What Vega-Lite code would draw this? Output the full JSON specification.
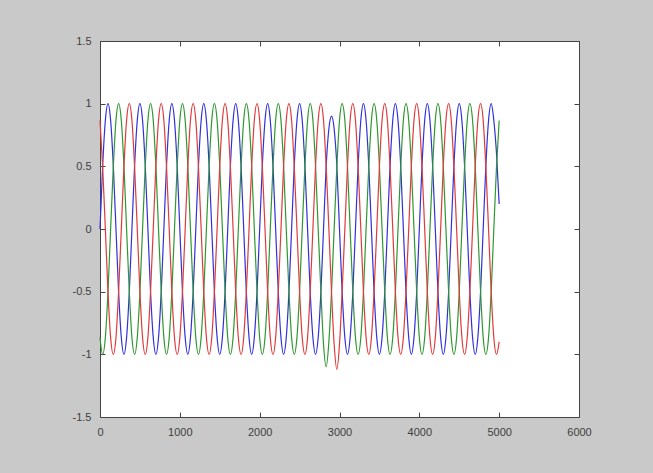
{
  "$schema": "https://vega.github.io/schema/vega-lite/v6.json",
  "width": 479,
  "height": 376,
  "autosize": {"type": "none"},
  "padding": {"left": 100, "top": 41, "right": 74, "bottom": 56},
  "background": "#c9c9c9",
  "view": {"fill": "#ffffff", "stroke": "#444444", "strokeWidth": 1},
  "config": {
    "axis": {
      "labelFont": "Liberation Sans",
      "labelFontSize": 11,
      "labelColor": "#404040",
      "tickColor": "#444444",
      "grid": false,
      "domain": false,
      "title": null
    }
  },
  "data": {
    "values": [
      {"t":0,"p":"a","v":0},{"t":33,"p":"a","v":0.5},{"t":67,"p":"a","v":0.866},{"t":100,"p":"a","v":1},{"t":133,"p":"a","v":0.866},{"t":167,"p":"a","v":0.5},{"t":200,"p":"a","v":0},{"t":233,"p":"a","v":-0.5},{"t":267,"p":"a","v":-0.866},{"t":300,"p":"a","v":-1},{"t":333,"p":"a","v":-0.866},{"t":367,"p":"a","v":-0.5},
      {"t":400,"p":"a","v":0},{"t":433,"p":"a","v":0.5},{"t":467,"p":"a","v":0.866},{"t":500,"p":"a","v":1},{"t":533,"p":"a","v":0.866},{"t":567,"p":"a","v":0.5},{"t":600,"p":"a","v":0},{"t":633,"p":"a","v":-0.5},{"t":667,"p":"a","v":-0.866},{"t":700,"p":"a","v":-1},{"t":733,"p":"a","v":-0.866},{"t":767,"p":"a","v":-0.5},
      {"t":800,"p":"a","v":0},{"t":833,"p":"a","v":0.5},{"t":867,"p":"a","v":0.866},{"t":900,"p":"a","v":1},{"t":933,"p":"a","v":0.866},{"t":967,"p":"a","v":0.5},{"t":1000,"p":"a","v":0},{"t":1033,"p":"a","v":-0.5},{"t":1067,"p":"a","v":-0.866},{"t":1100,"p":"a","v":-1},{"t":1133,"p":"a","v":-0.866},{"t":1167,"p":"a","v":-0.5},
      {"t":1200,"p":"a","v":0},{"t":1233,"p":"a","v":0.5},{"t":1267,"p":"a","v":0.866},{"t":1300,"p":"a","v":1},{"t":1333,"p":"a","v":0.866},{"t":1367,"p":"a","v":0.5},{"t":1400,"p":"a","v":0},{"t":1433,"p":"a","v":-0.5},{"t":1467,"p":"a","v":-0.866},{"t":1500,"p":"a","v":-1},{"t":1533,"p":"a","v":-0.866},{"t":1567,"p":"a","v":-0.5},
      {"t":1600,"p":"a","v":0},{"t":1633,"p":"a","v":0.5},{"t":1667,"p":"a","v":0.866},{"t":1700,"p":"a","v":1},{"t":1733,"p":"a","v":0.866},{"t":1767,"p":"a","v":0.5},{"t":1800,"p":"a","v":0},{"t":1833,"p":"a","v":-0.5},{"t":1867,"p":"a","v":-0.866},{"t":1900,"p":"a","v":-1},{"t":1933,"p":"a","v":-0.866},{"t":1967,"p":"a","v":-0.5},
      {"t":2000,"p":"a","v":0},{"t":2033,"p":"a","v":0.5},{"t":2067,"p":"a","v":0.866},{"t":2100,"p":"a","v":1},{"t":2133,"p":"a","v":0.866},{"t":2167,"p":"a","v":0.5},{"t":2200,"p":"a","v":0},{"t":2233,"p":"a","v":-0.5},{"t":2267,"p":"a","v":-0.866},{"t":2300,"p":"a","v":-1},{"t":2333,"p":"a","v":-0.866},{"t":2367,"p":"a","v":-0.5},
      {"t":2400,"p":"a","v":0},{"t":2433,"p":"a","v":0.5},{"t":2467,"p":"a","v":0.866},{"t":2500,"p":"a","v":1},{"t":2533,"p":"a","v":0.866},{"t":2567,"p":"a","v":0.5},{"t":2600,"p":"a","v":0},{"t":2633,"p":"a","v":-0.5},{"t":2667,"p":"a","v":-0.866},{"t":2700,"p":"a","v":-1},{"t":2733,"p":"a","v":-0.866},{"t":2767,"p":"a","v":-0.5},
      {"t":2800,"p":"a","v":0},{"t":2833,"p":"a","v":0.5},{"t":2867,"p":"a","v":0.8},{"t":2900,"p":"a","v":0.9},{"t":2933,"p":"a","v":0.8},{"t":2967,"p":"a","v":0.5},{"t":3000,"p":"a","v":0},{"t":3033,"p":"a","v":-0.5},{"t":3067,"p":"a","v":-0.866},{"t":3100,"p":"a","v":-1},{"t":3133,"p":"a","v":-0.866},{"t":3167,"p":"a","v":-0.5},
      {"t":3200,"p":"a","v":0},{"t":3233,"p":"a","v":0.5},{"t":3267,"p":"a","v":0.866},{"t":3300,"p":"a","v":1},{"t":3333,"p":"a","v":0.866},{"t":3367,"p":"a","v":0.5},{"t":3400,"p":"a","v":0},{"t":3433,"p":"a","v":-0.5},{"t":3467,"p":"a","v":-0.866},{"t":3500,"p":"a","v":-1},{"t":3533,"p":"a","v":-0.866},{"t":3567,"p":"a","v":-0.5},
      {"t":3600,"p":"a","v":0},{"t":3633,"p":"a","v":0.5},{"t":3667,"p":"a","v":0.866},{"t":3700,"p":"a","v":1},{"t":3733,"p":"a","v":0.866},{"t":3767,"p":"a","v":0.5},{"t":3800,"p":"a","v":0},{"t":3833,"p":"a","v":-0.5},{"t":3867,"p":"a","v":-0.866},{"t":3900,"p":"a","v":-1},{"t":3933,"p":"a","v":-0.866},{"t":3967,"p":"a","v":-0.5},
      {"t":4000,"p":"a","v":0},{"t":4033,"p":"a","v":0.5},{"t":4067,"p":"a","v":0.866},{"t":4100,"p":"a","v":1},{"t":4133,"p":"a","v":0.866},{"t":4167,"p":"a","v":0.5},{"t":4200,"p":"a","v":0},{"t":4233,"p":"a","v":-0.5},{"t":4267,"p":"a","v":-0.866},{"t":4300,"p":"a","v":-1},{"t":4333,"p":"a","v":-0.866},{"t":4367,"p":"a","v":-0.5},
      {"t":4400,"p":"a","v":0},{"t":4433,"p":"a","v":0.5},{"t":4467,"p":"a","v":0.866},{"t":4500,"p":"a","v":1},{"t":4533,"p":"a","v":0.866},{"t":4567,"p":"a","v":0.5},{"t":4600,"p":"a","v":0},{"t":4633,"p":"a","v":-0.5},{"t":4667,"p":"a","v":-0.866},{"t":4700,"p":"a","v":-1},{"t":4733,"p":"a","v":-0.866},{"t":4767,"p":"a","v":-0.5},
      {"t":4800,"p":"a","v":0},{"t":4833,"p":"a","v":0.5},{"t":4867,"p":"a","v":0.866},{"t":4900,"p":"a","v":1},{"t":4933,"p":"a","v":0.866},{"t":4967,"p":"a","v":0.6},{"t":5000,"p":"a","v":0.2},

      {"t":0,"p":"b","v":-0.866},{"t":33,"p":"b","v":-1},{"t":67,"p":"b","v":-0.866},{"t":100,"p":"b","v":-0.5},{"t":133,"p":"b","v":0},{"t":167,"p":"b","v":0.5},{"t":200,"p":"b","v":0.866},{"t":233,"p":"b","v":1},{"t":267,"p":"b","v":0.866},{"t":300,"p":"b","v":0.5},{"t":333,"p":"b","v":0},{"t":367,"p":"b","v":-0.5},
      {"t":400,"p":"b","v":-0.866},{"t":433,"p":"b","v":-1},{"t":467,"p":"b","v":-0.866},{"t":500,"p":"b","v":-0.5},{"t":533,"p":"b","v":0},{"t":567,"p":"b","v":0.5},{"t":600,"p":"b","v":0.866},{"t":633,"p":"b","v":1},{"t":667,"p":"b","v":0.866},{"t":700,"p":"b","v":0.5},{"t":733,"p":"b","v":0},{"t":767,"p":"b","v":-0.5},
      {"t":800,"p":"b","v":-0.866},{"t":833,"p":"b","v":-1},{"t":867,"p":"b","v":-0.866},{"t":900,"p":"b","v":-0.5},{"t":933,"p":"b","v":0},{"t":967,"p":"b","v":0.5},{"t":1000,"p":"b","v":0.866},{"t":1033,"p":"b","v":1},{"t":1067,"p":"b","v":0.866},{"t":1100,"p":"b","v":0.5},{"t":1133,"p":"b","v":0},{"t":1167,"p":"b","v":-0.5},
      {"t":1200,"p":"b","v":-0.866},{"t":1233,"p":"b","v":-1},{"t":1267,"p":"b","v":-0.866},{"t":1300,"p":"b","v":-0.5},{"t":1333,"p":"b","v":0},{"t":1367,"p":"b","v":0.5},{"t":1400,"p":"b","v":0.866},{"t":1433,"p":"b","v":1},{"t":1467,"p":"b","v":0.866},{"t":1500,"p":"b","v":0.5},{"t":1533,"p":"b","v":0},{"t":1567,"p":"b","v":-0.5},
      {"t":1600,"p":"b","v":-0.866},{"t":1633,"p":"b","v":-1},{"t":1667,"p":"b","v":-0.866},{"t":1700,"p":"b","v":-0.5},{"t":1733,"p":"b","v":0},{"t":1767,"p":"b","v":0.5},{"t":1800,"p":"b","v":0.866},{"t":1833,"p":"b","v":1},{"t":1867,"p":"b","v":0.866},{"t":1900,"p":"b","v":0.5},{"t":1933,"p":"b","v":0},{"t":1967,"p":"b","v":-0.5},
      {"t":2000,"p":"b","v":-0.866},{"t":2033,"p":"b","v":-1},{"t":2067,"p":"b","v":-0.866},{"t":2100,"p":"b","v":-0.5},{"t":2133,"p":"b","v":0},{"t":2167,"p":"b","v":0.5},{"t":2200,"p":"b","v":0.866},{"t":2233,"p":"b","v":1},{"t":2267,"p":"b","v":0.866},{"t":2300,"p":"b","v":0.5},{"t":2333,"p":"b","v":0},{"t":2367,"p":"b","v":-0.5},
      {"t":2400,"p":"b","v":-0.866},{"t":2433,"p":"b","v":-1},{"t":2467,"p":"b","v":-0.866},{"t":2500,"p":"b","v":-0.5},{"t":2533,"p":"b","v":0},{"t":2567,"p":"b","v":0.5},{"t":2600,"p":"b","v":0.866},{"t":2633,"p":"b","v":1},{"t":2667,"p":"b","v":0.866},{"t":2700,"p":"b","v":0.5},{"t":2733,"p":"b","v":0},{"t":2767,"p":"b","v":-0.5},
      {"t":2800,"p":"b","v":-0.92},{"t":2833,"p":"b","v":-1.1},{"t":2867,"p":"b","v":-0.9},{"t":2900,"p":"b","v":-0.5},{"t":2933,"p":"b","v":0},{"t":2967,"p":"b","v":0.5},{"t":3000,"p":"b","v":0.866},{"t":3033,"p":"b","v":1},{"t":3067,"p":"b","v":0.866},{"t":3100,"p":"b","v":0.5},{"t":3133,"p":"b","v":0},{"t":3167,"p":"b","v":-0.5},
      {"t":3200,"p":"b","v":-0.866},{"t":3233,"p":"b","v":-1},{"t":3267,"p":"b","v":-0.866},{"t":3300,"p":"b","v":-0.5},{"t":3333,"p":"b","v":0},{"t":3367,"p":"b","v":0.5},{"t":3400,"p":"b","v":0.866},{"t":3433,"p":"b","v":1},{"t":3467,"p":"b","v":0.866},{"t":3500,"p":"b","v":0.5},{"t":3533,"p":"b","v":0},{"t":3567,"p":"b","v":-0.5},
      {"t":3600,"p":"b","v":-0.866},{"t":3633,"p":"b","v":-1},{"t":3667,"p":"b","v":-0.866},{"t":3700,"p":"b","v":-0.5},{"t":3733,"p":"b","v":0},{"t":3767,"p":"b","v":0.5},{"t":3800,"p":"b","v":0.866},{"t":3833,"p":"b","v":1},{"t":3867,"p":"b","v":0.866},{"t":3900,"p":"b","v":0.5},{"t":3933,"p":"b","v":0},{"t":3967,"p":"b","v":-0.5},
      {"t":4000,"p":"b","v":-0.866},{"t":4033,"p":"b","v":-1},{"t":4067,"p":"b","v":-0.866},{"t":4100,"p":"b","v":-0.5},{"t":4133,"p":"b","v":0},{"t":4167,"p":"b","v":0.5},{"t":4200,"p":"b","v":0.866},{"t":4233,"p":"b","v":1},{"t":4267,"p":"b","v":0.866},{"t":4300,"p":"b","v":0.5},{"t":4333,"p":"b","v":0},{"t":4367,"p":"b","v":-0.5},
      {"t":4400,"p":"b","v":-0.866},{"t":4433,"p":"b","v":-1},{"t":4467,"p":"b","v":-0.866},{"t":4500,"p":"b","v":-0.5},{"t":4533,"p":"b","v":0},{"t":4567,"p":"b","v":0.5},{"t":4600,"p":"b","v":0.866},{"t":4633,"p":"b","v":1},{"t":4667,"p":"b","v":0.866},{"t":4700,"p":"b","v":0.5},{"t":4733,"p":"b","v":0},{"t":4767,"p":"b","v":-0.5},
      {"t":4800,"p":"b","v":-0.866},{"t":4833,"p":"b","v":-1},{"t":4867,"p":"b","v":-0.866},{"t":4900,"p":"b","v":-0.5},{"t":4933,"p":"b","v":0},{"t":4967,"p":"b","v":0.5},{"t":5000,"p":"b","v":0.866},

      {"t":0,"p":"c","v":0.866},{"t":33,"p":"c","v":0.5},{"t":67,"p":"c","v":0},{"t":100,"p":"c","v":-0.5},{"t":133,"p":"c","v":-0.866},{"t":167,"p":"c","v":-1},{"t":200,"p":"c","v":-0.866},{"t":233,"p":"c","v":-0.5},{"t":267,"p":"c","v":0},{"t":300,"p":"c","v":0.5},{"t":333,"p":"c","v":0.866},{"t":367,"p":"c","v":1},
      {"t":400,"p":"c","v":0.866},{"t":433,"p":"c","v":0.5},{"t":467,"p":"c","v":0},{"t":500,"p":"c","v":-0.5},{"t":533,"p":"c","v":-0.866},{"t":567,"p":"c","v":-1},{"t":600,"p":"c","v":-0.866},{"t":633,"p":"c","v":-0.5},{"t":667,"p":"c","v":0},{"t":700,"p":"c","v":0.5},{"t":733,"p":"c","v":0.866},{"t":767,"p":"c","v":1},
      {"t":800,"p":"c","v":0.866},{"t":833,"p":"c","v":0.5},{"t":867,"p":"c","v":0},{"t":900,"p":"c","v":-0.5},{"t":933,"p":"c","v":-0.866},{"t":967,"p":"c","v":-1},{"t":1000,"p":"c","v":-0.866},{"t":1033,"p":"c","v":-0.5},{"t":1067,"p":"c","v":0},{"t":1100,"p":"c","v":0.5},{"t":1133,"p":"c","v":0.866},{"t":1167,"p":"c","v":1},
      {"t":1200,"p":"c","v":0.866},{"t":1233,"p":"c","v":0.5},{"t":1267,"p":"c","v":0},{"t":1300,"p":"c","v":-0.5},{"t":1333,"p":"c","v":-0.866},{"t":1367,"p":"c","v":-1},{"t":1400,"p":"c","v":-0.866},{"t":1433,"p":"c","v":-0.5},{"t":1467,"p":"c","v":0},{"t":1500,"p":"c","v":0.5},{"t":1533,"p":"c","v":0.866},{"t":1567,"p":"c","v":1},
      {"t":1600,"p":"c","v":0.866},{"t":1633,"p":"c","v":0.5},{"t":1667,"p":"c","v":0},{"t":1700,"p":"c","v":-0.5},{"t":1733,"p":"c","v":-0.866},{"t":1767,"p":"c","v":-1},{"t":1800,"p":"c","v":-0.866},{"t":1833,"p":"c","v":-0.5},{"t":1867,"p":"c","v":0},{"t":1900,"p":"c","v":0.5},{"t":1933,"p":"c","v":0.866},{"t":1967,"p":"c","v":1},
      {"t":2000,"p":"c","v":0.866},{"t":2033,"p":"c","v":0.5},{"t":2067,"p":"c","v":0},{"t":2100,"p":"c","v":-0.5},{"t":2133,"p":"c","v":-0.866},{"t":2167,"p":"c","v":-1},{"t":2200,"p":"c","v":-0.866},{"t":2233,"p":"c","v":-0.5},{"t":2267,"p":"c","v":0},{"t":2300,"p":"c","v":0.5},{"t":2333,"p":"c","v":0.866},{"t":2367,"p":"c","v":1},
      {"t":2400,"p":"c","v":0.866},{"t":2433,"p":"c","v":0.5},{"t":2467,"p":"c","v":0},{"t":2500,"p":"c","v":-0.5},{"t":2533,"p":"c","v":-0.866},{"t":2567,"p":"c","v":-1},{"t":2600,"p":"c","v":-0.866},{"t":2633,"p":"c","v":-0.5},{"t":2667,"p":"c","v":0},{"t":2700,"p":"c","v":0.5},{"t":2733,"p":"c","v":0.866},{"t":2767,"p":"c","v":1},
      {"t":2800,"p":"c","v":0.866},{"t":2833,"p":"c","v":0.5},{"t":2867,"p":"c","v":0},{"t":2900,"p":"c","v":-0.5},{"t":2933,"p":"c","v":-0.92},{"t":2967,"p":"c","v":-1.12},{"t":3000,"p":"c","v":-0.92},{"t":3033,"p":"c","v":-0.5},{"t":3067,"p":"c","v":0},{"t":3100,"p":"c","v":0.5},{"t":3133,"p":"c","v":0.866},{"t":3167,"p":"c","v":1},
      {"t":3200,"p":"c","v":0.866},{"t":3233,"p":"c","v":0.5},{"t":3267,"p":"c","v":0},{"t":3300,"p":"c","v":-0.5},{"t":3333,"p":"c","v":-0.866},{"t":3367,"p":"c","v":-1},{"t":3400,"p":"c","v":-0.866},{"t":3433,"p":"c","v":-0.5},{"t":3467,"p":"c","v":0},{"t":3500,"p":"c","v":0.5},{"t":3533,"p":"c","v":0.866},{"t":3567,"p":"c","v":1},
      {"t":3600,"p":"c","v":0.866},{"t":3633,"p":"c","v":0.5},{"t":3667,"p":"c","v":0},{"t":3700,"p":"c","v":-0.5},{"t":3733,"p":"c","v":-0.866},{"t":3767,"p":"c","v":-1},{"t":3800,"p":"c","v":-0.866},{"t":3833,"p":"c","v":-0.5},{"t":3867,"p":"c","v":0},{"t":3900,"p":"c","v":0.5},{"t":3933,"p":"c","v":0.866},{"t":3967,"p":"c","v":1},
      {"t":4000,"p":"c","v":0.866},{"t":4033,"p":"c","v":0.5},{"t":4067,"p":"c","v":0},{"t":4100,"p":"c","v":-0.5},{"t":4133,"p":"c","v":-0.866},{"t":4167,"p":"c","v":-1},{"t":4200,"p":"c","v":-0.866},{"t":4233,"p":"c","v":-0.5},{"t":4267,"p":"c","v":0},{"t":4300,"p":"c","v":0.5},{"t":4333,"p":"c","v":0.866},{"t":4367,"p":"c","v":1},
      {"t":4400,"p":"c","v":0.866},{"t":4433,"p":"c","v":0.5},{"t":4467,"p":"c","v":0},{"t":4500,"p":"c","v":-0.5},{"t":4533,"p":"c","v":-0.866},{"t":4567,"p":"c","v":-1},{"t":4600,"p":"c","v":-0.866},{"t":4633,"p":"c","v":-0.5},{"t":4667,"p":"c","v":0},{"t":4700,"p":"c","v":0.5},{"t":4733,"p":"c","v":0.866},{"t":4767,"p":"c","v":1},
      {"t":4800,"p":"c","v":0.866},{"t":4833,"p":"c","v":0.5},{"t":4867,"p":"c","v":0},{"t":4900,"p":"c","v":-0.5},{"t":4933,"p":"c","v":-0.866},{"t":4967,"p":"c","v":-1},{"t":5000,"p":"c","v":-0.9}
    ]
  },
  "layer": [
    {
      "mark": {"type": "line", "strokeWidth": 1.2, "interpolate": "monotone"},
      "encoding": {
        "x": {
          "field": "t", "type": "quantitative",
          "scale": {"domain": [0, 6000], "nice": false, "zero": false},
          "axis": {"orient": "bottom", "values": [0, 1000, 2000, 3000, 4000, 5000, 6000], "labelExpr": "'' + datum.value", "tickSize": -5, "labelPadding": 14, "labelFlush": false}
        },
        "y": {
          "field": "v", "type": "quantitative",
          "scale": {"domain": [-1.5, 1.5], "nice": false, "zero": false},
          "axis": {"orient": "left", "values": [-1.5, -1, -0.5, 0, 0.5, 1, 1.5], "labelExpr": "'' + datum.value", "tickSize": -5, "labelPadding": 14}
        },
        "color": {
          "field": "p", "type": "nominal",
          "scale": {"domain": ["a", "b", "c"], "range": ["#3030dc", "#2e982e", "#e03a3a"]},
          "legend": null
        }
      }
    },
    {
      "mark": {"type": "point", "opacity": 0},
      "encoding": {
        "x": {
          "field": "t", "type": "quantitative",
          "scale": {"domain": [0, 6000], "nice": false, "zero": false},
          "axis": {"orient": "top", "values": [0, 1000, 2000, 3000, 4000, 5000, 6000], "labels": false, "tickSize": -5}
        },
        "y": {
          "field": "v", "type": "quantitative",
          "scale": {"domain": [-1.5, 1.5], "nice": false, "zero": false},
          "axis": {"orient": "right", "values": [-1.5, -1, -0.5, 0, 0.5, 1, 1.5], "labels": false, "tickSize": -5}
        }
      }
    }
  ],
  "resolve": {"scale": {"x": "independent", "y": "independent"}, "axis": {"x": "independent", "y": "independent"}}
}
